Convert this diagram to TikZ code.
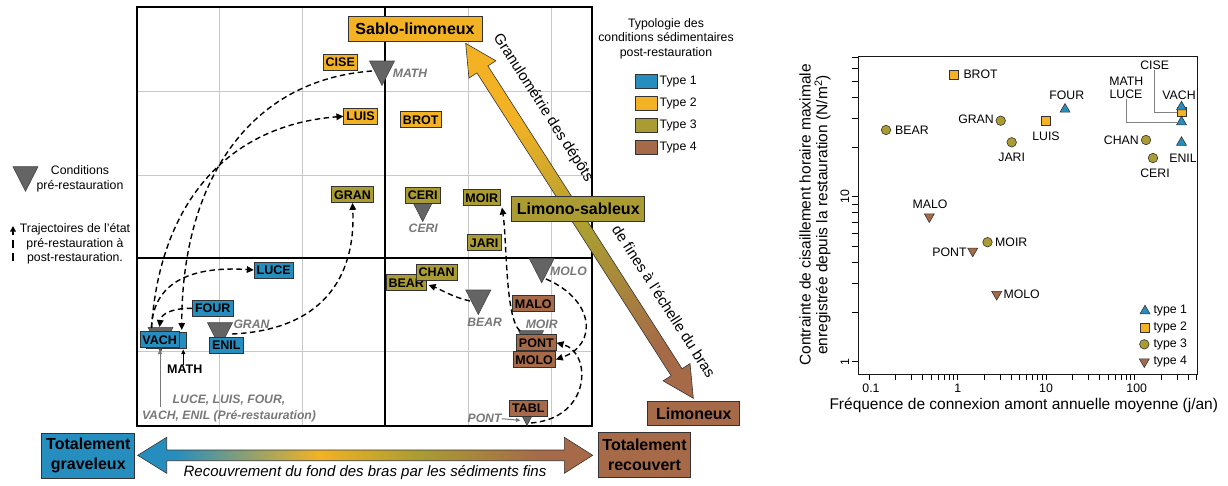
\documentclass[tikz,border=0pt]{standalone}
\usepackage{fontspec}
\setmainfont{Liberation Sans}
\usetikzlibrary{shapes.geometric,arrows.meta}
\definecolor{cblue}{RGB}{38,142,190}
\definecolor{corange}{RGB}{242,178,36}
\definecolor{colive}{RGB}{170,156,50}
\definecolor{cbrown}{RGB}{166,106,72}
\definecolor{labgray}{RGB}{120,120,120}
\definecolor{gridgray}{RGB}{200,200,200}
\definecolor{trifill}{RGB}{100,100,100}
\definecolor{tridraw}{RGB}{70,70,70}
\definecolor{leadgray}{RGB}{130,130,130}
\pgfdeclarehorizontalshading{hgrad}{100bp}{color(0bp)=(cblue); color(29bp)=(cblue); color(45bp)=(corange); color(56bp)=(colive); color(69bp)=(cbrown); color(100bp)=(cbrown)}
\pgfdeclarehorizontalshading{dgrad}{100bp}{color(0bp)=(cbrown); color(32bp)=(cbrown); color(48bp)=(colive); color(64bp)=(corange); color(100bp)=(corange)}
\newcommand{\myTxt}{\fontsize{12.3}{14.5}\selectfont}
\newcommand{\myLab}{\fontsize{12.5}{14}\selectfont\bfseries}
\newcommand{\myBig}{\fontsize{16}{20}\selectfont\bfseries}
\newcommand{\myPre}{\fontsize{12.2}{15.5}\selectfont\bfseries\itshape}
\newcommand{\myMid}{\fontsize{15}{18}\selectfont}
\newcommand{\myAx}{\fontsize{15.5}{16.8}\selectfont}
\tikzset{
 lbox/.style={draw=black!80, line width=0.7pt, font=\myLab, inner xsep=2.5pt, inner ysep=0pt, minimum height=16pt, text height=9pt, text depth=0pt},
 ty1/.style={lbox, fill=cblue}, ty2/.style={lbox, fill=corange},
 ty3/.style={lbox, fill=colive}, ty4/.style={lbox, fill=cbrown},
 bigbox/.style={draw=black!80, line width=0.8pt, font=\myBig, inner sep=0pt, align=center},
 prelab/.style={font=\myPre, text=labgray, inner sep=0pt},
 traj/.style={line width=1.4pt, dash pattern=on 5.5pt off 3.5pt, -{Triangle[length=7pt,width=6.5pt]}},
 gridln/.style={gridgray, line width=0.9pt},
 frameln/.style={black, line width=1.6pt},
 pretri/.pic={\filldraw[fill=trifill, draw=tridraw, line width=0.6pt] (-12.5,0) -- (12.5,0) -- (0,24.5) -- cycle;},
 mk/.style={draw=black!80, line width=0.6pt, inner sep=0pt},
 mk1/.style={mk, fill=cblue, regular polygon, regular polygon sides=3, minimum size=11.5pt},
 mk2/.style={mk, fill=corange, rectangle, minimum size=9pt},
 mk3/.style={mk, fill=colive, circle, minimum size=9.5pt},
 mk4/.style={mk, fill=cbrown, regular polygon, regular polygon sides=3, shape border rotate=180, minimum size=11.5pt},
 plab/.style={font=\myTxt, inner sep=0pt},
 leader/.style={leadgray, line width=0.8pt},
 smallarr/.style={line width=1pt, -{Triangle[length=4.5pt,width=4pt]}},
}
\begin{document}
\begin{tikzpicture}[x=1pt,y=-1pt]
\useasboundingbox (0,0) rectangle (1228,485);
\fill[white] (0,0) rectangle (1228,485);

% ---------- far-left legend ----------
\pic (legtri) at (25.5,166.7) {pretri};
\node[font=\myTxt, align=center, inner sep=0pt] (condlab) at (80,179) {Conditions\\pré-restauration};
\coordinate (legA) at (13,261);
\coordinate (legB) at (13,226);
\draw[line width=1.4pt, dash pattern=on 8pt off 5pt, -{Triangle[length=5.5pt,width=5.5pt]}] (legA) -- (legB);
\node[font=\myTxt, align=center, inner sep=0pt] (trajlab) at (75,243.8) {Trajectoires de l’état\\pré-restauration à\\post-restauration.};

% ---------- left panel grid ----------
\foreach \gx in {219,302,468,551} \draw[gridln] (\gx,7) -- (\gx,426);
\foreach \gy in {91,175,351} \draw[gridln] (137,\gy) -- (592,\gy);
\draw[frameln] (137,7) rectangle (592,426);
\draw[frameln] (385,7) -- (385,426);
\draw[frameln] (137,258) -- (592,258);

% ---------- pre-restoration triangles ----------
\pic (tMATH) at (382,61) {pretri};
\pic[scale=0.7] (tCERI) at (422.7,204.3) {pretri};
\pic (tMOLO) at (541.7,258.3) {pretri};
\pic (tBEAR) at (478.3,290) {pretri};
\pic (tMOIR) at (531,330.7) {pretri};
\pic (tPONT) at (527,401) {pretri};
\pic (tVACH) at (160.5,327.3) {pretri};
\pic (tGRAN) at (220,322.7) {pretri};

% ---------- post-restoration boxes ----------
\node[ty2] (CISE) at (340.3,62.2) {CISE};
\node[ty2] (LUIS) at (360.5,116.3) {LUIS};
\node[ty2] (BROT) at (420.7,119.7) {BROT};
\node[ty3] (GRAN) at (352.5,194.5) {GRAN};
\node[ty3] (CERI) at (422.7,195.3) {CERI};
\node[ty3] (MOIR) at (481.7,197.5) {MOIR};
\node[ty3] (JARI) at (484.2,242.5) {JARI};
\node[ty3] (BEAR) at (406.3,282.8) {BEAR};
\node[ty3] (CHAN) at (436.7,272) {CHAN};
\node[ty4] (MALO) at (533.3,303.5) {MALO};
\node[ty4] (PONT) at (536.3,342.8) {PONT};
\node[ty4] (MOLO) at (534.2,359.5) {MOLO};
\node[ty4] (TABL) at (528.3,408.3) {TABL};
\node[ty1] (LUCE) at (273.7,270) {LUCE};
\node[ty1] (FOUR) at (212.8,308.3) {FOUR};
\node[ty1] (ENIL) at (226.3,345.3) {ENIL};
\node[ty1, minimum width=40pt] (mathbox) at (166.5,340) {};
\node[ty1] (VACH) at (159.7,339.5) {VACH};

% ---------- pre-restoration labels ----------
\node[prelab, anchor=west] (lMATH) at (392.7,73.3) {MATH};
\node[prelab] (lCERI) at (423.3,228.3) {CERI};
\node[prelab, anchor=west] (lMOLO) at (550,271.3) {MOLO};
\node[prelab] (lBEAR) at (484.7,322) {BEAR};
\node[prelab] (lMOIR) at (541.7,324.5) {MOIR};
\node[prelab, anchor=west] (lGRAN) at (233.3,324.5) {GRAN};
\node[prelab, anchor=east] (lPONT) at (501.7,418.7) {PONT};
\node[prelab, align=center] (lGROUP) at (229,408.3) {LUCE, LUIS, FOUR,\\VACH, ENIL (Pré-restauration)};
\node[font=\myLab, inner sep=0pt] (mathlab) at (184.7,369.5) {MATH};

% ---------- trajectories ----------
\coordinate (sMATH) at (372,71);
\coordinate (eMATH) at (181.7,330);
\coordinate (sVACH) at (151.5,328);
\coordinate (eFOUR) at (159.5,327);
\coordinate (sGRAN) at (232,334);
\coordinate (sBEAR) at (470,301);
\coordinate (eBEAR) at (428.5,285);
\coordinate (sMOIR) at (520,331);
\coordinate (eMOIR) at (502,207.5);
\coordinate (sMOLO) at (546,279);
\coordinate (sPONT) at (531,423);
\draw[traj] (sMATH) .. controls (250,80) and (182,180) .. (eMATH);
\draw[traj] (sVACH) .. controls (160,200) and (230,125) .. (LUIS.west);
\draw[traj] (sVACH) .. controls (153,280) and (195,266) .. (LUCE.west);
\draw[traj] (FOUR.west) .. controls (172,308) and (161,314) .. (eFOUR);
\draw[traj] (sGRAN) .. controls (320,330) and (356,280) .. (GRAN.south);
\draw[traj] (sBEAR) .. controls (452,297) and (440,289) .. (eBEAR);
\draw[traj] (sMOIR) .. controls (505,318) and (507,240) .. (eMOIR);
\draw[traj] (sMOLO) .. controls (595,300) and (598,345) .. (MOLO.east);
\draw[traj] (sPONT) .. controls (592,418) and (592,352) .. (PONT.east);

% small pointer arrows
\coordinate (gA) at (160,407);
\coordinate (gB) at (160,349.5);
\draw[smallarr, labgray] (gA) -- (gB);
\coordinate (mB) at (183.3,349.5);
\draw[smallarr, black] (mathlab.north -| mB) -- (mB);
\coordinate (pB) at (520.5,420.3);
\draw[smallarr, labgray] (lPONT.east) -- (pB);

% ---------- diagonal arrow ----------
\begin{scope}[transform canvas={shift={(693.3,398.3)}, rotate=122.67}]
\shadedraw[shading=dgrad, draw=black!80, line width=0.6pt] (0,0) -- (31,-16) -- (31,-6.5) -- (390.7,-6.5) -- (390.7,-16) -- (421.7,0) -- (390.7,16) -- (390.7,6.5) -- (31,6.5) -- (31,16) -- cycle;
\end{scope}
\node[font=\myMid, rotate=-57.33, inner sep=0pt] (granlab) at (543,108) {Granulométrie des dépôts};
\node[font=\myMid, rotate=-57.33, inner sep=0pt] (finelab) at (664,301) {de fines à l’échelle du bras};
\node[bigbox, fill=corange, minimum width=134pt, minimum height=25pt] (sablo) at (415,28.5) {Sablo-limoneux};
\node[bigbox, fill=colive, minimum width=133pt, minimum height=25pt] (limsab) at (578.3,209.2) {Limono-sableux};
\node[bigbox, fill=cbrown, minimum width=92pt, minimum height=24.5pt] (limon) at (693.8,413.3) {Limoneux};

% ---------- bottom arrow ----------
\shadedraw[shading=hgrad, draw=black!80, line width=0.6pt] (137.7,455.3) -- (166.7,437.3) -- (166.7,450) -- (564.3,450) -- (564.3,437.3) -- (592.7,455.3) -- (564.3,473.3) -- (564.3,460.7) -- (166.7,460.7) -- (166.7,473.3) -- cycle;
\node[bigbox, fill=cblue, minimum width=93pt, minimum height=45pt] (grav) at (88.3,455.8) {Totalement\\graveleux};
\node[bigbox, fill=cbrown, minimum width=92pt, minimum height=44.5pt] (recouv) at (644.5,455) {Totalement\\recouvert};
\node[font=\myMid\itshape, inner sep=0pt] (reclab) at (365,472.7) {Recouvrement du fond des bras par les sédiments fins};

% ---------- type legend ----------
\node[font=\myTxt, align=center, inner sep=0pt] (typtitle) at (666,38.8) {Typologie des\\conditions sédimentaires\\post-restauration};
\node[draw=black!80, line width=0.7pt, fill=cblue, minimum width=22pt, minimum height=14pt, inner sep=0pt] (lt1) at (646,81.2) {};
\node[draw=black!80, line width=0.7pt, fill=corange, minimum width=22pt, minimum height=14pt, inner sep=0pt] (lt2) at (646,103.3) {};
\node[draw=black!80, line width=0.7pt, fill=colive, minimum width=22pt, minimum height=14pt, inner sep=0pt] (lt3) at (646,125.5) {};
\node[draw=black!80, line width=0.7pt, fill=cbrown, minimum width=22pt, minimum height=14pt, inner sep=0pt] (lt4) at (646,147.5) {};
\node[plab, anchor=west] (ltx1) at (659.5,81.2) {Type 1};
\node[plab, anchor=west] (ltx2) at (659.5,103.3) {Type 2};
\node[plab, anchor=west] (ltx3) at (659.5,125.5) {Type 3};
\node[plab, anchor=west] (ltx4) at (659.5,147.5) {Type 4};

% ---------- right plot ----------
\foreach \v in {1,...,9} \draw[line width=0.8pt] (858,{361.7-165*log10(\v)}) -- ++(-6,0);
\foreach \v in {10,20,...,70} \draw[line width=0.8pt] (858,{361.7-165*log10(\v)}) -- ++(-6,0);
\foreach \d in {-1,0,1} \foreach \m in {1,...,9} \draw[line width=0.8pt] ({957.7+88.5*(\d+log10(\m))},374) -- ++(0,6);
\foreach \m in {1,...,5} \draw[line width=0.8pt] ({957.7+88.5*(2+log10(\m))},374) -- ++(0,6);
\draw[black!90, line width=0.9pt] (858,56) rectangle (1197.3,374);
\node[plab] (xt1) at (871,388.3) {0.1};
\node[plab] (xt2) at (957.7,388.3) {1};
\node[plab] (xt3) at (1046,388.3) {10};
\node[plab] (xt4) at (1136.7,388.3) {100};
\node[plab, rotate=90] (yt1) at (845,196.7) {10};
\node[plab, rotate=90] (yt2) at (845,361.7) {1};
\node[font=\myAx, inner sep=0pt] (xlab) at (1023.8,405.7) {Fréquence de connexion amont annuelle moyenne (j/an)};
\node[font=\myAx, rotate=90, align=center, inner sep=0pt] (ylab) at (815,215) {Contrainte de cisaillement horaire maximale\\enregistrée depuis la restauration (N/m\textsuperscript{2})};

% leaders
\node[plab] (pCISE) at (1154.7,65) {CISE};
\node[plab] (pMATH) at (1126.3,81.5) {MATH};
\node[plab] (pLUCE) at (1126,94.3) {LUCE};
\node[mk2] (mCISE) at (1181.5,112) {};
\node[mk1] (mVACH) at (1181.5,107) {};
\node[mk1] (mMATH) at (1181.5,122) {};
\draw[leader] (pCISE.south) |- (mCISE.west);
\draw[leader] (pLUCE.south) |- (mMATH.west);

% markers
\node[mk2] (mBROT) at (953.3,74.3) {};
\node[mk1] (mFOUR) at (1065,109.3) {};
\node[mk3] (mGRAN) at (1000.7,120.7) {};
\node[mk3] (mBEAR) at (886,130) {};
\node[mk2] (mLUIS) at (1045.3,120.7) {};
\node[mk3] (mJARI) at (1011.7,142.3) {};
\node[mk3] (mCHAN) at (1146,140) {};
\node[mk3] (mCERI) at (1153,158) {};
\node[mk1] (mENIL) at (1181.5,142.5) {};
\node[mk4] (mMALO) at (929.3,216.7) {};
\node[mk3] (mMOIR) at (987.5,242.2) {};
\node[mk4] (mPONT) at (972.7,251) {};
\node[mk4] (mMOLO) at (996.7,294.3) {};

% point labels
\node[plab, anchor=west] (pBROT) at (963.3,74.3) {BROT};
\node[plab] (pFOUR) at (1066.7,95) {FOUR};
\node[plab, anchor=east] (pGRAN) at (994,119.5) {GRAN};
\node[plab, anchor=west] (pBEAR) at (895,130) {BEAR};
\node[plab] (pLUIS) at (1046,136) {LUIS};
\node[plab] (pJARI) at (1011.7,157.3) {JARI};
\node[plab, anchor=east] (pCHAN) at (1139,140) {CHAN};
\node[plab] (pCERI) at (1155,173.3) {CERI};
\node[plab] (pENIL) at (1183,158.3) {ENIL};
\node[plab] (pVACH) at (1179,95.5) {VACH};
\node[plab] (pMALO) at (930,204) {MALO};
\node[plab, anchor=west] (pMOIR) at (995,242) {MOIR};
\node[plab, anchor=east] (pPONT) at (966.7,252) {PONT};
\node[plab, anchor=west] (pMOLO) at (1003.3,294.3) {MOLO};

% plot legend
\node[mk1] (lg1) at (1145,311) {};
\node[mk2] (lg2) at (1144.3,327.7) {};
\node[mk3] (lg3) at (1144.3,344.3) {};
\node[mk4] (lg4) at (1144.3,361.7) {};
\node[plab, anchor=west] (lgt1) at (1153.3,311) {type 1};
\node[plab, anchor=west] (lgt2) at (1153.3,327.7) {type 2};
\node[plab, anchor=west] (lgt3) at (1153.3,344.3) {type 3};
\node[plab, anchor=west] (lgt4) at (1153.3,361.7) {type 4};
\end{tikzpicture}
\end{document}
